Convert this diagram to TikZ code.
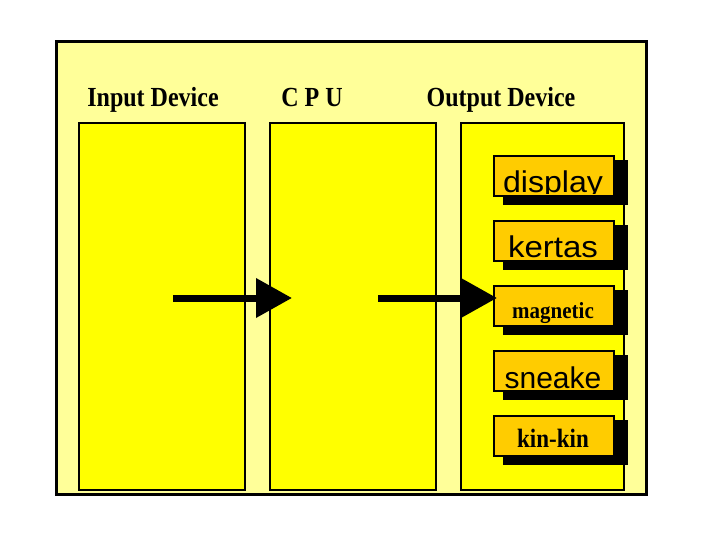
\documentclass[tikz,border=0pt]{standalone}
\usepackage{fontspec}
\setmainfont{Liberation Serif}
\newfontfamily\itemsans{Liberation Sans}
\usetikzlibrary{arrows.meta}
\definecolor{paleY}{HTML}{FFFF99}
\definecolor{mainY}{HTML}{FFFF00}
\definecolor{itemO}{HTML}{FFCC00}
\tikzset{
  frame/.style={draw=black, line width=3pt, fill=paleY},
  column/.style={draw=black, line width=2.2pt, fill=mainY},
  title/.style={font=\fontsize{24}{24}\selectfont\bfseries, anchor=base, inner sep=0pt},
  itembox/.style={draw=black, line width=2.2pt, fill=itemO},
  bigarrow/.style={line width=7pt, -{Triangle[length=36pt,width=38pt]}},
}
\newcommand{\outitem}[5]{% name, top y, text, baseline y, options
  \fill[black] (503,#2+5) rectangle (628,#2+50);
  \node[itembox, minimum width=120pt, minimum height=40pt, inner sep=0pt, anchor=north west] (#1) at (493,#2) {};
  \begin{scope}
    \clip (494,#2+1.1) rectangle (611.9,#2+38.9);
    \node[anchor=base, inner sep=0pt, #5] (#1t) at (553,#4) {#3};
  \end{scope}
}
\begin{document}
\begin{tikzpicture}[x=1pt,y=-1pt]
\useasboundingbox (0,0) rectangle (720,540);
\fill[white] (0,0) rectangle (720,540);
\draw[frame] (56,42) rectangle (646,494);
\node[column, minimum width=166pt, minimum height=367pt, inner sep=0pt, anchor=north west] (inbox) at (78,122) {};
\node[column, minimum width=166pt, minimum height=367pt, inner sep=0pt, anchor=north west] (cpubox) at (269,122) {};
\node[column, minimum width=163pt, minimum height=367pt, inner sep=0pt, anchor=north west] (outbox) at (460,122) {};
\node[title] (tin) at (153,107) {\scalebox{1}[1.15]{Input Device}};
\node[title] (tcpu) at (312,107) {\scalebox{1}[1.15]{C P U}};
\node[title] (tout) at (501,107) {\scalebox{1}[1.15]{Output Device}};
\outitem{display}{155}{\scalebox{1.07}[1]{display}}{193}{font=\itemsans\fontsize{30}{30}\selectfont}
\outitem{kertas}{220}{\scalebox{1.1}[1]{kertas}}{257}{font=\itemsans\fontsize{30}{30}\selectfont}
\outitem{magnetic}{285}{\scalebox{1}[1.1]{magnetic}}{318}{font=\fontsize{21}{21}\selectfont\bfseries}
\outitem{sneake}{350}{sneake}{388}{font=\itemsans\fontsize{30}{30}\selectfont}
\outitem{kinkin}{415}{\scalebox{1}[1.15]{kin-kin}}{447}{font=\fontsize{23}{23}\selectfont\bfseries}
\coordinate (a1s) at (173,298);
\coordinate (a1e) at (292,298);
\coordinate (a2s) at (378,298);
\coordinate (a2e) at (497,298);
\draw[bigarrow] (a1s) -- (a1e);
\draw[bigarrow] (a2s) -- (a2e);
\end{tikzpicture}
\end{document}
